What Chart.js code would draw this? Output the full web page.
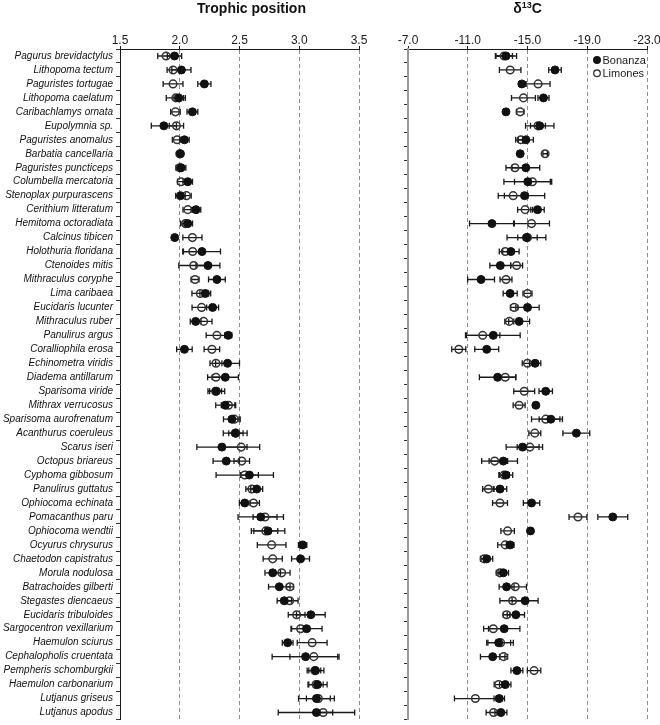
<!DOCTYPE html>
<html>
<head>
<meta charset="utf-8">
<script src="https://cdn.jsdelivr.net/npm/chart.js@4.4.1/dist/chart.umd.min.js"></script>
<style>
  body { margin: 0; background: #fff; }
  #wrap { position: relative; width: 660px; height: 725px; }
  canvas { position: absolute; top: 0; }
  #tp-chart { left: 0; }
  #c13-chart { left: 370px; }
</style>
</head>
<body>
<div id="wrap">
  <canvas id="tp-chart" width="370" height="725"></canvas>
  <canvas id="c13-chart" width="290" height="725"></canvas>
</div>
<script>
const species = [
  "Pagurus brevidactylus", "Lithopoma tectum", "Paguristes tortugae", "Lithopoma caelatum",
  "Caribachlamys ornata", "Eupolymnia sp.", "Paguristes anomalus", "Barbatia cancellaria",
  "Paguristes puncticeps", "Columbella mercatoria", "Stenoplax purpurascens", "Cerithium litteratum",
  "Hemitoma octoradiata", "Calcinus tibicen", "Holothuria floridana", "Ctenoides mitis",
  "Mithraculus coryphe", "Lima caribaea", "Eucidaris lucunter", "Mithraculus ruber",
  "Panulirus argus", "Coralliophila erosa", "Echinometra viridis", "Diadema antillarum",
  "Sparisoma viride", "Mithrax verrucosus", "Sparisoma aurofrenatum", "Acanthurus coeruleus",
  "Scarus iseri", "Octopus briareus", "Cyphoma gibbosum", "Panulirus guttatus",
  "Ophiocoma echinata", "Pomacanthus paru", "Ophiocoma wendtii", "Ocyurus chrysurus",
  "Chaetodon capistratus", "Morula nodulosa", "Batrachoides gilberti", "Stegastes diencaeus",
  "Eucidaris tribuloides", "Sargocentron vexillarium", "Haemulon sciurus", "Cephalopholis cruentata",
  "Pempheris schomburgkii", "Haemulon carbonarium", "Lutjanus griseus", "Lutjanus apodus",
];
const sites = ["Bonanza", "Limones"];

// Trophic position (mean and error bar half-width)
const tpBonanza = [
  1.956, 2.014, 2.206, 1.992, 2.106, 1.867, 2.039, 2.006, 2.011, 2.067, 2.006, 2.136,
  2.067, 1.958, 2.186, 2.236, 2.311, 2.214, 2.275, 2.133, 2.406, 2.039, 2.4, 2.381,
  2.306, 2.381, 2.436, 2.464, 2.353, 2.389, 2.583, 2.644, 2.544, 2.678, 2.739, 3.028,
  3.011, 2.778, 2.833, 2.875, 3.097, 3.061, 2.903, 3.053, 3.136, 3.153, 3.144, 3.144,
];
const tpBonanzaErr = [
  0.06, 0.08, 0.055, 0.04, 0.045, 0.105, 0.04, 0.015, 0.04, 0.04, 0.04, 0.04,
  0.04, 0.02, 0.155, 0.1, 0.07, 0.045, 0.05, 0.045, 0.03, 0.065, 0.1, 0.11,
  0.07, 0.08, 0.07, 0.1, 0.21, 0.11, 0.075, 0.05, 0.045, 0.19, 0.14, 0.035,
  0.075, 0.065, 0.09, 0.06, 0.12, 0.13, 0.045, 0.28, 0.07, 0.08, 0.15, 0.32,
];
const tpLimones = [
  1.886, 1.944, 1.944, 1.967, 1.964, 1.972, 1.978, 2.0, 2.0, 2.011, 2.056, 2.067,
  2.047, 2.106, 2.108, 2.117, 2.128, 2.172, 2.183, 2.2, 2.311, 2.269, 2.303, 2.303,
  2.3, 2.408, 2.456, 2.47, 2.514, 2.519, 2.544, 2.603, 2.617, 2.714, 2.72, 2.769,
  2.778, 2.853, 2.922, 2.92, 2.978, 3.011, 3.108, 3.122, 3.13, 3.14, 3.16, 3.2,
];
const tpLimonesErr = [
  0.07, 0.05, 0.083, 0.08, 0.04, 0.06, 0.04, 0.01, 0.03, 0.03, 0.04, 0.04,
  0.04, 0.08, 0.083, 0.125, 0.033, 0.07, 0.08, 0.07, 0.09, 0.065, 0.05, 0.07,
  0.05, 0.06, 0.04, 0.06, 0.155, 0.065, 0.24, 0.05, 0.05, 0.1, 0.1, 0.12,
  0.08, 0.07, 0.03, 0.07, 0.07, 0.075, 0.125, 0.2, 0.05, 0.06, 0.1, 0.08,
];

// d13C (mean and error bar half-width)
const c13Bonanza = [
  -13.56, -16.84, -14.62, -16.07, -13.56, -15.82, -14.89, -14.51, -14.89, -15.02, -14.8, -15.67,
  -12.62, -14.93, -13.89, -13.18, -11.89, -13.84, -15.0, -14.44, -12.71, -12.27, -15.51, -13.0,
  -16.22, -15.56, -16.56, -18.27, -14.67, -13.38, -13.56, -13.16, -15.27, -20.71, -15.2, -13.84,
  -12.27, -13.38, -13.6, -14.84, -14.22, -13.44, -13.07, -12.67, -14.29, -13.51, -13.11, -13.22,
];
const c13BonanzaErr = [
  0.71, 0.42, 0.2, 0.37, 0.15, 0.95, 0.5, 0.1, 0.93, 1.6, 1.35, 0.45,
  1.5, 1.3, 0.55, 0.7, 0.9, 0.47, 0.78, 0.7, 1.8, 0.8, 0.38, 1.22,
  0.45, 0.15, 0.78, 0.9, 1.1, 0.95, 0.45, 0.45, 0.55, 1.0, 0.15, 0.25,
  0.4, 0.35, 0.5, 0.87, 0.58, 1.05, 0.8, 0.82, 0.4, 0.38, 0.35, 0.4,
];
const c13Limones = [
  -13.44, -13.84, -15.71, -14.73, -14.51, -15.7, -14.56, -16.18, -14.16, -15.33, -14.04, -14.84,
  -15.27, -15.0, -13.51, -14.27, -13.56, -15.0, -14.11, -13.78, -12.0, -10.4, -15.0, -13.51,
  -14.78, -14.44, -16.22, -15.49, -15.16, -12.8, -13.44, -12.38, -13.16, -18.38, -13.67, -13.51,
  -12.1, -13.16, -14.18, -14.0, -13.6, -12.71, -13.2, -13.4, -15.44, -13.07, -11.51, -12.73,
];
const c13LimonesErr = [
  0.55, 0.72, 0.8, 0.8, 0.25, 0.5, 0.35, 0.15, 0.6, 1.2, 1.0, 0.5,
  1.2, 0.65, 0.4, 0.4, 0.4, 0.3, 0.25, 0.3, 1.15, 0.47, 0.35, 0.7,
  0.7, 0.4, 0.95, 0.4, 0.85, 0.87, 0.35, 0.38, 0.5, 0.6, 0.45, 0.5,
  0.25, 0.25, 0.75, 0.85, 0.22, 0.65, 0.85, 0.27, 0.45, 0.3, 1.4, 0.5,
];

const FONT = "'Liberation Sans', Arial, sans-serif";
Chart.defaults.font.family = FONT;
Chart.defaults.color = "#1a1a1a";

// horizontal error bars with end caps, drawn under the markers
const errorBars = {
  id: "errorBars",
  beforeDatasetsDraw(chart) {
    const ctx = chart.ctx;
    const xScale = chart.scales.x;
    chart.data.datasets.forEach((ds, i) => {
      const meta = chart.getDatasetMeta(i);
      ctx.save();
      ctx.strokeStyle = "#1a1a1a";
      ctx.lineWidth = 1.3;
      meta.data.forEach((pt, j) => {
        const v = ds.data[j].x;
        const e = ds.errors[j];
        const x1 = xScale.getPixelForValue(v - e);
        const x2 = xScale.getPixelForValue(v + e);
        const y = pt.y;
        ctx.beginPath();
        ctx.moveTo(x1, y);
        ctx.lineTo(x2, y);
        ctx.moveTo(x1, y - 3);
        ctx.lineTo(x1, y + 3);
        ctx.moveTo(x2, y - 3);
        ctx.lineTo(x2, y + 3);
        ctx.stroke();
      });
      ctx.restore();
    });
  },
};

// bold panel title, parts may be superscript
const panelTitle = {
  id: "panelTitle",
  afterDraw(chart, args, opts) {
    const ctx = chart.ctx;
    const area = chart.chartArea;
    const big = "bold 14px " + FONT;
    const small = "bold 9px " + FONT;
    ctx.save();
    ctx.fillStyle = "#111";
    ctx.textBaseline = "alphabetic";
    ctx.textAlign = "left";
    let total = 0;
    opts.parts.forEach((p) => {
      ctx.font = p.sup ? small : big;
      total += ctx.measureText(p.text).width;
    });
    let x = (area.left + area.right) / 2 + opts.shift - total / 2;
    opts.parts.forEach((p) => {
      ctx.font = p.sup ? small : big;
      ctx.fillText(p.text, x, p.sup ? 8 : 13);
      x += ctx.measureText(p.text).width;
    });
    ctx.restore();
  },
};

// small legend in the top right corner of the plot
const cornerLegend = {
  id: "cornerLegend",
  afterDatasetsDraw(chart, args, opts) {
    if (!opts.show) return;
    const ctx = chart.ctx;
    const area = chart.chartArea;
    ctx.save();
    ctx.font = "11px " + FONT;
    ctx.textBaseline = "middle";
    ctx.fillStyle = "#1a1a1a";
    chart.data.datasets.forEach((ds, i) => {
      const x = area.right - 50;
      const y = area.top + 11 + i * 13.3;
      ctx.beginPath();
      ctx.arc(x, y, 3.3, 0, Math.PI * 2);
      ctx.lineWidth = 1.3;
      ctx.strokeStyle = ds.borderColor;
      if (ds.backgroundColor !== "transparent") {
        ctx.fillStyle = ds.backgroundColor;
        ctx.fill();
      }
      ctx.stroke();
      ctx.fillStyle = "#1a1a1a";
      ctx.fillText(ds.label, x + 5.5, y + 0.5);
    });
    ctx.restore();
  },
};

const makeDatasets = (bon, bonErr, lim, limErr) => [
  {
    label: sites[0],
    data: bon.map((v, i) => ({ x: v, y: species[i] })),
    errors: bonErr,
    backgroundColor: "#111",
    borderColor: "#111",
    pointRadius: 4,
    pointBorderWidth: 1,
  },
  {
    label: sites[1],
    data: lim.map((v, i) => ({ x: v, y: species[i] })),
    errors: limErr,
    backgroundColor: "transparent",
    borderColor: "#333",
    pointRadius: 3.8,
    pointBorderWidth: 1.5,
  },
];

const makeChart = (id, opt) => {
  return new Chart(document.getElementById(id).getContext("2d"), {
    type: "scatter",
    data: { datasets: opt.datasets },
    plugins: [errorBars, panelTitle, cornerLegend],
    options: {
      responsive: false,
      animation: false,
      layout: { padding: { left: 0, top: 0, right: opt.padRight, bottom: 1 } },
      scales: {
        x: {
          type: "linear",
          position: "top",
          min: opt.min,
          max: opt.max,
          reverse: opt.reverse,
          ticks: {
            stepSize: opt.step,
            padding: -2,
            color: "#1a1a1a",
            font: { size: 12 },
            callback: (v) => Number(v).toFixed(1),
          },
          grid: {
            color: (c) => (c.index === 0 ? "transparent" : "#8c8c8c"),
            lineWidth: 1,
            tickColor: "#1a1a1a",
            tickLength: 3,
          },
          border: { display: true, color: "#1a1a1a", width: 1, dash: [4, 3] },
          afterFit: (scale) => {
            scale.height = 49;
            scale.paddingLeft = 0;
            scale.paddingRight = 0;
          },
        },
        y: {
          type: "category",
          labels: species,
          offset: true,
          ticks: {
            display: opt.showLabels,
            autoSkip: false,
            padding: 3,
            color: "#111",
            font: { size: 10, style: "italic" },
          },
          grid: {
            offset: true,
            drawOnChartArea: false,
            tickLength: 4,
            tickColor: "#333",
          },
          border: { display: true, color: opt.axisColor, width: opt.axisWidth },
          afterFit: (scale) => {
            scale.width = opt.yWidth;
            scale.paddingTop = 0;
            scale.paddingBottom = 0;
          },
        },
      },
      plugins: {
        legend: { display: false },
        tooltip: { enabled: false },
        panelTitle: { parts: opt.title, shift: opt.titleShift },
        cornerLegend: { show: opt.legend },
      },
    },
  });
};

makeChart("tp-chart", {
  datasets: makeDatasets(tpBonanza, tpBonanzaErr, tpLimones, tpLimonesErr),
  min: 1.5,
  max: 3.5,
  step: 0.5,
  reverse: false,
  padRight: 11,
  yWidth: 120,
  showLabels: true,
  axisColor: "#1a1a1a",
  axisWidth: 1,
  title: [{ text: "Trophic position" }],
  titleShift: 12,
  legend: false,
});

makeChart("c13-chart", {
  datasets: makeDatasets(c13Bonanza, c13BonanzaErr, c13Limones, c13LimonesErr),
  min: -23,
  max: -7,
  step: 4,
  reverse: true,
  padRight: 13,
  yWidth: 38,
  showLabels: false,
  axisColor: "#9a9a9a",
  axisWidth: 2,
  title: [{ text: "δ" }, { text: "13", sup: true }, { text: "C" }],
  titleShift: 0,
  legend: true,
});
</script>
</body>
</html>
